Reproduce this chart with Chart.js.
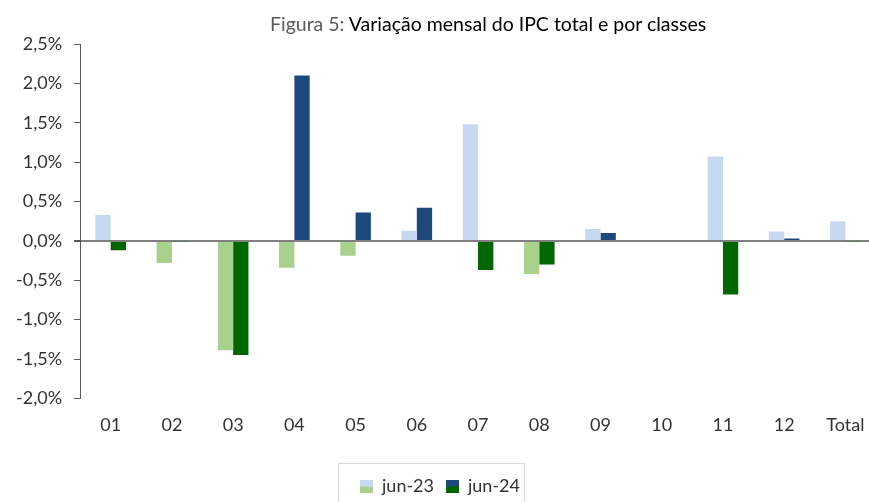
<!DOCTYPE html>
<html>
<head>
<meta charset="utf-8">
<script src="https://cdn.jsdelivr.net/npm/chart.js@4.4.1/dist/chart.umd.min.js"></script>
<style>
  html, body { margin: 0; padding: 0; background: #fff; overflow: hidden; }
  #wrap { position: relative; width: 876px; height: 502px; }
  #titulo {
    position: absolute; top: 12px; left: 270px; width: 430px;
    text-align: center; font-family: Lato, 'Open Sans', sans-serif;
    font-size: 19.5px; color: #000; white-space: nowrap;
  }
  #titulo span { color: #595959; }
</style>
</head>
<body>
<div id="wrap">
  <div id="titulo"><span>Figura 5:</span> Variação mensal do IPC total e por classes</div>
  <canvas id="graf" width="876" height="502"></canvas>
</div>
<script>
const graf = document.getElementById('graf')

// dados (%)
const classes = ['01', '02', '03', '04', '05', '06', '07', '08', '09', '10', '11', '12', 'Total']
const jun23 = [0.33, -0.28, -1.39, -0.34, -0.19, 0.13, 1.48, -0.42, 0.15, 0.00, 1.07, 0.12, 0.25]
const jun24 = [-0.12, -0.01, -1.45, 2.10, 0.36, 0.42, -0.37, -0.30, 0.10, 0.00, -0.68, 0.03, -0.01]
const ticksY = [-2.0, -1.5, -1.0, -0.5, 0.0, 0.5, 1.0, 1.5, 2.0, 2.5]

// cores: positivo azul, negativo verde
const cor23 = { pos: '#c6d9f1', neg: '#a9d18e' }
const cor24 = { pos: '#1f497d', neg: '#006600' }

// amostra da legenda com duas cores
function amostra(c) {
  const cv = document.createElement('canvas')
  cv.width = 13
  cv.height = 13
  const g = cv.getContext('2d')
  g.fillStyle = c.pos
  g.fillRect(0, 0, 13, 7)
  g.fillStyle = c.neg
  g.fillRect(0, 7, 13, 6)
  return cv
}

const caixaLegenda = {
  id: 'caixaLegenda',
  afterDraw(chart) {
    const hb = chart.legend.legendHitBoxes
    if (!hb || !hb.length) return
    const ctx = chart.ctx
    const x0 = hb[0].left - 22
    const x1 = hb[hb.length - 1].left + hb[hb.length - 1].width + 4
    const y0 = hb[0].top - 14
    ctx.save()
    ctx.strokeStyle = '#d9d9d9'
    ctx.lineWidth = 1
    ctx.strokeRect(x0 + 0.5, y0 + 0.5, x1 - x0, 60)
    ctx.restore()
  }
}

new Chart(graf, {
  type: 'bar',
  data: {
    labels: classes,
    datasets: [
      {
        label: 'jun-23',
        data: jun23,
        backgroundColor: ctx => (ctx.raw < 0 ? cor23.neg : cor23.pos),
        pointStyle: amostra(cor23),
        categoryPercentage: 0.5,
        barPercentage: 1
      },
      {
        label: 'jun-24',
        data: jun24,
        backgroundColor: ctx => (ctx.raw < 0 ? cor24.neg : cor24.pos),
        pointStyle: amostra(cor24),
        categoryPercentage: 0.5,
        barPercentage: 1
      }
    ]
  },
  options: {
    responsive: false,
    animation: false,
    layout: { padding: { top: 44, right: 0, left: 4, bottom: -3 } },
    scales: {
      x: {
        grid: { display: false },
        border: { display: false },
        ticks: { color: '#333', font: { family: 'Lato', size: 18 }, padding: 8 }
      },
      y: {
        min: -2,
        max: 2.5,
        afterBuildTicks: axis => { axis.ticks = ticksY.map(v => ({ value: v })) },
        grid: {
          drawOnChartArea: true,
          color: ctx => (ctx.tick && ctx.tick.value === 0 ? '#808080' : 'rgba(0,0,0,0)'),
          lineWidth: ctx => (ctx.tick && ctx.tick.value === 0 ? 2 : 1),
          tickColor: '#595959',
          tickLength: 6
        },
        border: { color: '#595959' },
        ticks: {
          color: '#333',
          font: { family: 'Lato', size: 18 },
          padding: 12,
          callback: v => v.toFixed(1).replace('.', ',') + '%'
        }
      }
    },
    plugins: {
      legend: {
        position: 'bottom',
        title: { display: true, text: ' ', font: { size: 10 }, padding: { top: 0, bottom: 9 } },
        labels: {
          usePointStyle: true,
          color: '#333',
          font: { family: 'Lato', size: 18 },
          padding: 12,
          boxWidth: 13
        }
      },
      tooltip: { enabled: false }
    }
  },
  plugins: [caixaLegenda]
})
</script>
</body>
</html>
